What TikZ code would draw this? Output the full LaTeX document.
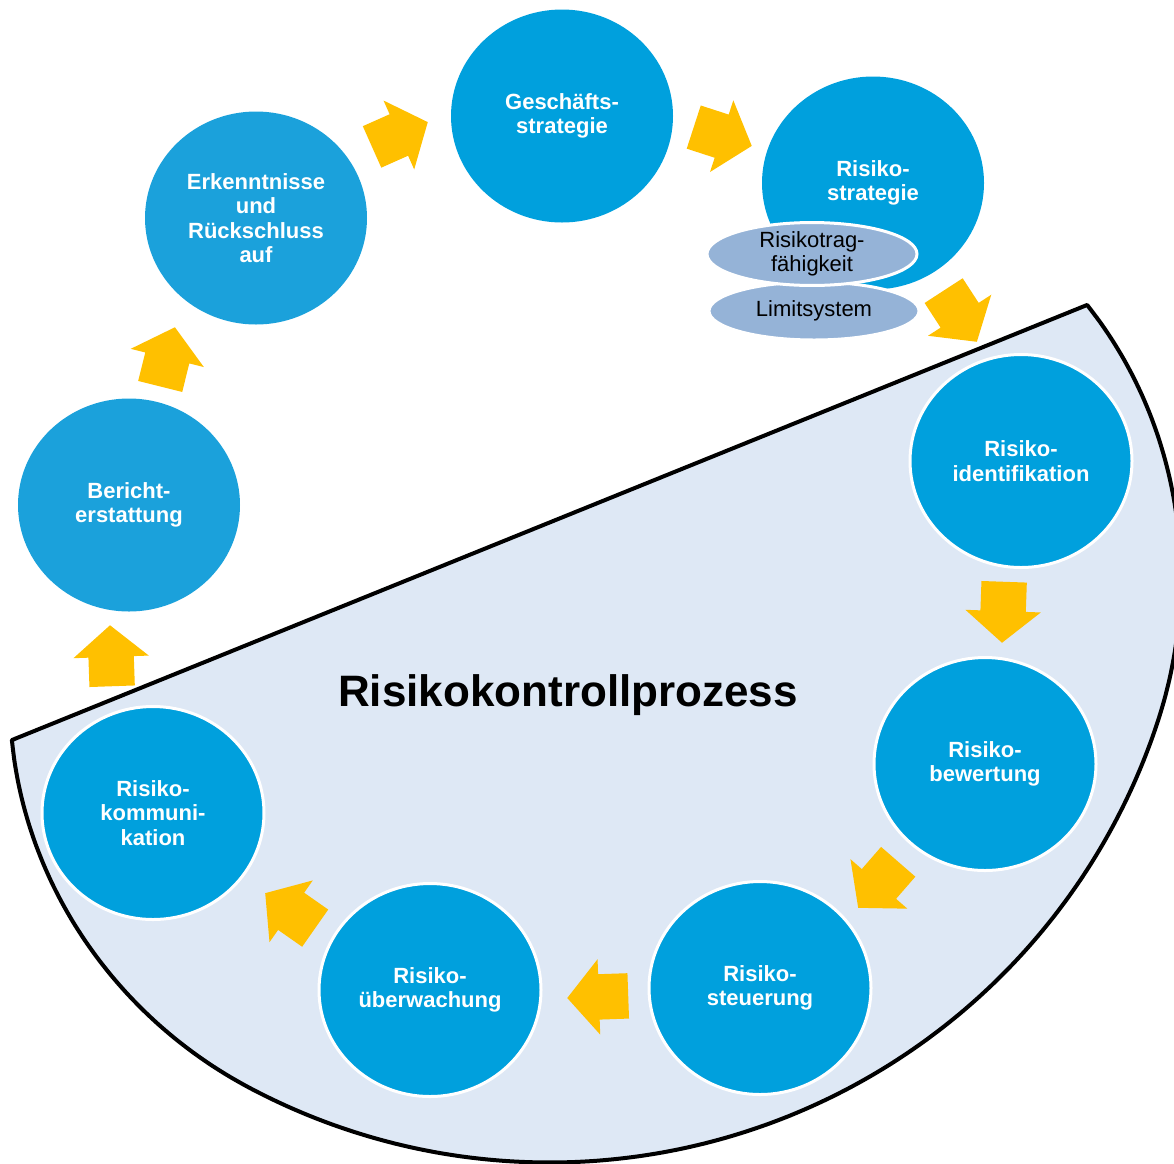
\documentclass[tikz,border=0pt]{standalone}
\usepackage{fontspec}
\setmainfont{Liberation Sans}
\usetikzlibrary{shapes.geometric,shapes.arrows}
\definecolor{rkblue}{RGB}{0,160,221}
\definecolor{rkblueb}{RGB}{27,161,219}
\definecolor{rkfield}{RGB}{222,232,245}
\definecolor{rkoval}{RGB}{149,179,215}
\definecolor{rkarrow}{RGB}{255,192,0}

\begin{document}
\begin{tikzpicture}[x=1pt, y=-1pt,
    declare function={rr(\t)=640-0.0375*(max(abs(\t)-50,0))^2;},
    circ/.style={ellipse, fill=rkblue, minimum width=222pt, minimum height=213pt,
      inner sep=0pt, align=center, text=white,
      font=\fontsize{22}{24.5}\selectfont\bfseries},
    incirc/.style={circ, draw=white, line width=3pt},
    oval/.style={ellipse, fill=rkoval, draw=white, line width=3pt,
      minimum width=210pt, minimum height=58pt, inner sep=0pt, align=center,
      font=\fontsize{22}{24}\selectfont},
    blk/.style={single arrow, fill=rkarrow, minimum height=61pt, anchor=tip,
      inner xsep=0pt, inner ysep=22.5pt,
      single arrow head extend=15pt, single arrow tip angle=100}]
  \useasboundingbox (0,0) rectangle (1174,1163);

  % Risikokontrollprozess field, bounded by the chord FA--FB
  \coordinate (FA) at (12,740);
  \coordinate (FB) at (1087,305);
  \draw[fill=rkfield, line width=4pt, line join=round]
    (FA) -- (FB) -- plot[smooth, domain=90:-90, samples=91]
      ({549.5+rr(\x)*(0.92696*sin(\x)+0.3751*cos(\x))},
       {522.5+rr(\x)*(-0.3751*sin(\x)+0.92696*cos(\x))})
    -- cycle;

  % outer ring
  \node (GS) [circ] at (562,116) {Geschäfts-\\strategie};
  \node (RS) [circ] at (873,183) {Risiko-\\strategie};
  \node (ER) [circ, fill=rkblueb] at (256,218) {Erkenntnisse\\und\\Rückschluss\\auf};
  \node (BE) [circ, fill=rkblueb] at (129,505) {Bericht-\\erstattung};

  % process inside the field
  \node (RI) [incirc] at (1021,461) {Risiko-\\identifikation};
  \node (RB) [incirc] at (985,764) {Risiko-\\bewertung};
  \node (RST) [incirc] at (760,988) {Risiko-\\steuerung};
  \node (RU) [incirc] at (430,990) {Risiko-\\überwachung};
  \node (RK) [incirc] at (153,813) {Risiko-\\kommuni-\\kation};

  \node (LS) [oval] at (814,311) {Limitsystem};
  \node (RTF) [oval] at (812,254) {Risikotrag-\\fähigkeit};

  % block arrows, placed by their tips
  \node (arrA) [blk, rotate=24] at (428,122) {};
  \node (arrB) [blk, rotate=-18] at (752,146) {};
  \node (arrC) [blk, rotate=-57] at (977,342) {};
  \node (arrD) [blk, rotate=-92] at (1002,643) {};
  \node (arrE) [blk, rotate=-131] at (858,908) {};
  \node (arrF) [blk, rotate=182] at (567,998) {};
  \node (arrG) [blk, rotate=145] at (265,893) {};
  \node (arrH) [blk, rotate=92] at (110,625) {};
  \node (arrI) [blk, rotate=76] at (175,327) {};

  \node (title) at (568,695) {\fontsize{44}{48}\selectfont\bfseries Risikokontrollprozess};
\end{tikzpicture}
\end{document}
